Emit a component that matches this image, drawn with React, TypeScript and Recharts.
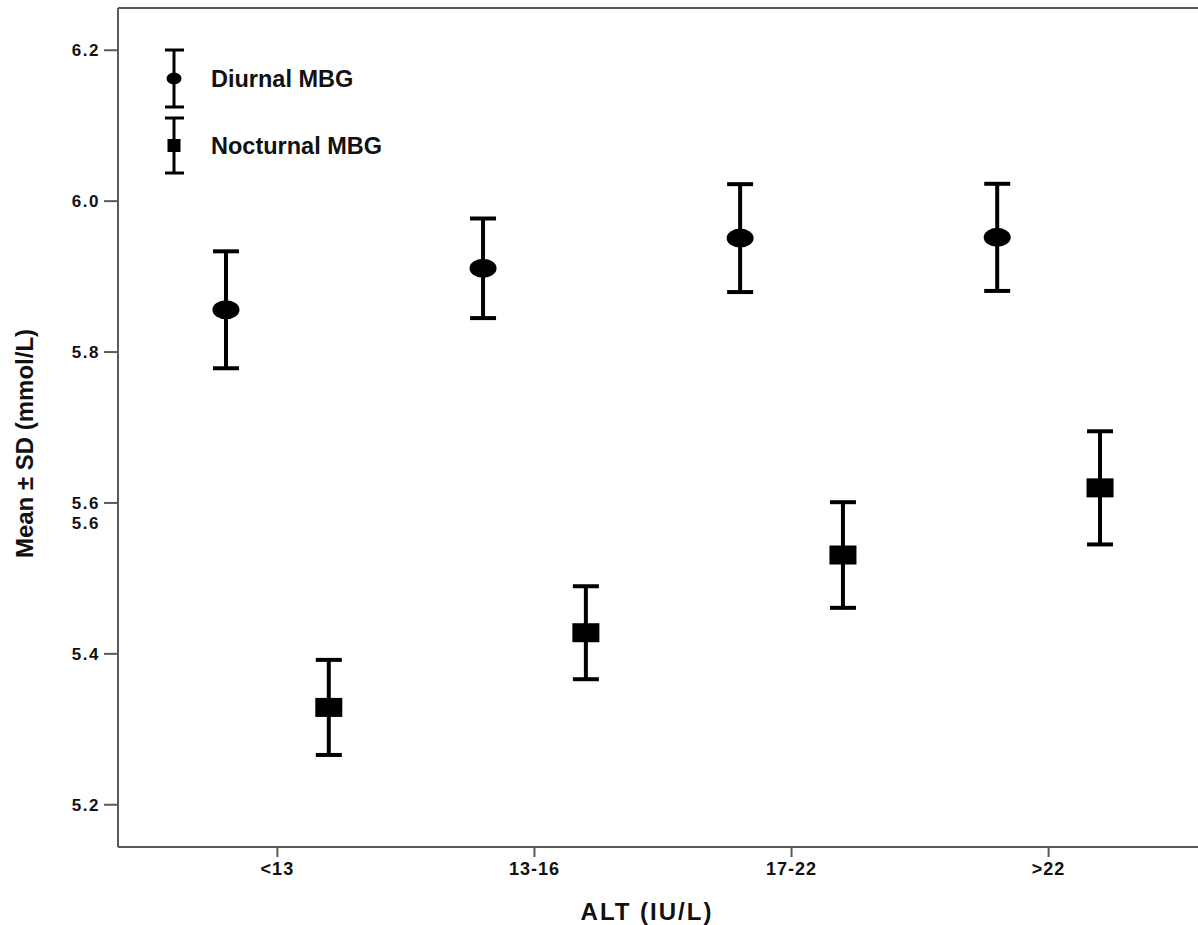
import { ScatterChart, Scatter, XAxis, YAxis, ErrorBar, Legend, ReferenceLine } from "recharts";

const categories = ["<13", "13-16", "17-22", ">22"];
const diurnalMean = [5.856, 5.911, 5.951, 5.952];
const diurnalSd = [0.0775, 0.066, 0.0715, 0.071];
const nocturnalMean = [5.329, 5.428, 5.531, 5.62];
const nocturnalSd = [0.063, 0.0616, 0.07, 0.075];
const yTicks = [5.2, 5.4, 5.6, 5.8, 6.0, 6.2];
const yDomain = [5.144, 6.256];
const xDomain = [0.38, 4.62];

const FONT = "'Liberation Sans', Arial, sans-serif";
const AXIS = "#5a5a5a";

const diurnalData = categories.map((c, i) => ({ x: i + 1 - 0.2, y: diurnalMean[i], err: diurnalSd[i], cat: c }));
const nocturnalData = categories.map((c, i) => ({ x: i + 1 + 0.2, y: nocturnalMean[i], err: nocturnalSd[i], cat: c }));

const Ellipse = (props: any) => <ellipse cx={props.cx} cy={props.cy} rx={13.5} ry={9.5} fill="#000" />;
const Box = (props: any) => <rect x={props.cx - 13.5} y={props.cy - 9.5} width={27} height={19} fill="#000" />;

const YTick = (props: any) => {
  const { x, y, payload } = props;
  const label = Number(payload.value).toFixed(1);
  return (
    <g>
      <text x={x} y={y} dy={6} textAnchor="end" fontFamily={FONT} fontWeight="bold" fontSize={17} letterSpacing={1.5} fill="#111">
        {label}
      </text>
      {payload.value === 5.6 && (
        <text x={x} y={y + 20} dy={6} textAnchor="end" fontFamily={FONT} fontWeight="bold" fontSize={17} letterSpacing={1.5} fill="#111">
          {label}
        </text>
      )}
    </g>
  );
};

const LegendBox = (props: any) => {
  const items = props.payload || [];
  return (
    <svg width={420} height={200} style={{ display: "block" }}>
      {items.map((item: any, i: number) => {
        const top = i === 0 ? 50 : 118;
        const bottom = i === 0 ? 107 : 173;
        const mid = (top + bottom) / 2;
        return (
          <g key={item.value}>
            <line x1={174} y1={top} x2={174} y2={bottom} stroke="#000" strokeWidth={3} />
            <line x1={165} y1={top} x2={184} y2={top} stroke="#000" strokeWidth={3} />
            <line x1={165} y1={bottom} x2={184} y2={bottom} stroke="#000" strokeWidth={3} />
            {i === 0 ? (
              <ellipse cx={174} cy={mid} rx={7.5} ry={6} fill="#000" />
            ) : (
              <rect x={167.5} y={mid - 6.5} width={13} height={13} fill="#000" />
            )}
            <text x={211} y={mid} dy={8} fontFamily={FONT} fontWeight="bold" fontSize={23.5} fill="#111">
              {item.value}
            </text>
          </g>
        );
      })}
    </svg>
  );
};

export default function App() {
  return (
    <div style={{ position: "absolute", left: 0, top: 0, width: 1198, height: 925, overflow: "hidden", background: "#fff" }}>
      <ScatterChart width={1220} height={925} margin={{ top: 8, right: 12, left: 0, bottom: 0 }}>
        <XAxis
          dataKey="x"
          type="number"
          domain={xDomain}
          ticks={[1, 2, 3, 4]}
          tickFormatter={(v: number) => categories[v - 1]}
          allowDataOverflow
          height={78}
          stroke={AXIS}
          strokeWidth={2}
          tickSize={10}
          tickMargin={5}
          tick={{ fill: "#111", fontFamily: FONT, fontWeight: "bold", fontSize: 18, letterSpacing: 1 }}
          label={{
            value: "ALT (IU/L)",
            position: "insideBottom",
            offset: 5,
            dx: -16,
            fill: "#111",
            fontFamily: FONT,
            fontWeight: "bold",
            fontSize: 24,
            letterSpacing: 2,
          }}
        />
        <YAxis
          dataKey="y"
          type="number"
          domain={yDomain}
          ticks={yTicks}
          allowDataOverflow
          width={118}
          stroke={AXIS}
          strokeWidth={2}
          tickSize={14}
          tickMargin={4}
          tick={<YTick />}
          label={{
            content: (p: any) => {
              const vb = p.viewBox;
              const cx = 24;
              const cy = vb.y + vb.height / 2 + 16;
              return (
                <text x={cx} y={cy} transform={`rotate(-90 ${cx} ${cy})`} textAnchor="middle" dominantBaseline="central" fontFamily={FONT} fontWeight="bold" fontSize={24} fill="#111">
                  Mean ± SD (mmol/L)
                </text>
              );
            },
          }}
        />
        <ReferenceLine y={yDomain[1]} stroke={AXIS} strokeWidth={2} />
        <Legend layout="vertical" align="center" verticalAlign="middle" content={<LegendBox />} wrapperStyle={{ left: 0, top: 0, width: 420, height: 200 }} />
        <Scatter name="Diurnal MBG" data={diurnalData} shape={<Ellipse />} isAnimationActive={false}>
          <ErrorBar dataKey="err" direction="y" width={13} stroke="#000" strokeWidth={4} isAnimationActive={false} />
        </Scatter>
        <Scatter name="Nocturnal MBG" data={nocturnalData} shape={<Box />} isAnimationActive={false}>
          <ErrorBar dataKey="err" direction="y" width={13} stroke="#000" strokeWidth={4} isAnimationActive={false} />
        </Scatter>
      </ScatterChart>
    </div>
  );
}
